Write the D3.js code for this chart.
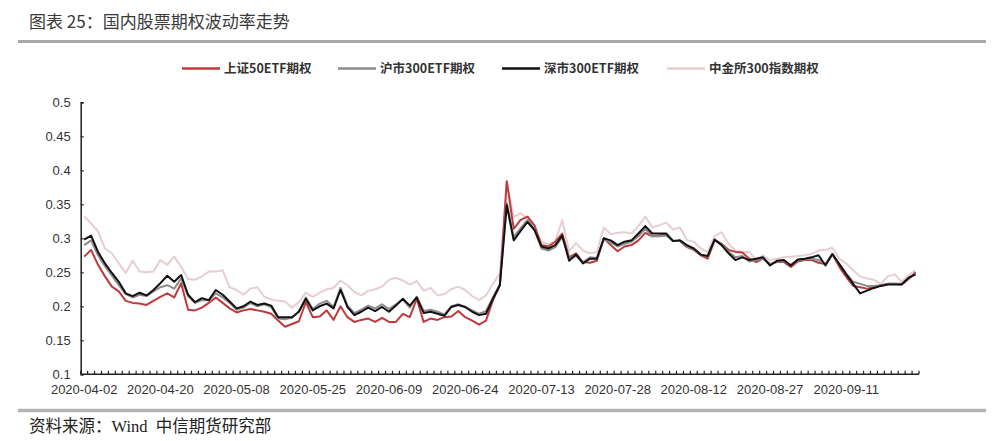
<!DOCTYPE html>
<html><head><meta charset="utf-8">
<script src="https://cdn.jsdelivr.net/npm/d3@7/dist/d3.min.js"></script>
<style>
body{margin:0;background:#fff;}
svg{display:block;}
</style></head>
<body>
<svg id="chart" width="1000" height="441"></svg>
<script>
const dates = [
"2020-04-02","2020-04-03","2020-04-07","2020-04-08","2020-04-09","2020-04-10","2020-04-13","2020-04-14","2020-04-15","2020-04-16","2020-04-17","2020-04-20","2020-04-21","2020-04-22","2020-04-23","2020-04-24","2020-04-27","2020-04-28","2020-04-29","2020-04-30",
"2020-05-06","2020-05-07","2020-05-08","2020-05-11","2020-05-12","2020-05-13","2020-05-14","2020-05-15","2020-05-18","2020-05-19","2020-05-20","2020-05-21","2020-05-22","2020-05-25","2020-05-26","2020-05-27","2020-05-28","2020-05-29",
"2020-06-01","2020-06-02","2020-06-03","2020-06-04","2020-06-05","2020-06-08","2020-06-09","2020-06-10","2020-06-11","2020-06-12","2020-06-15","2020-06-16","2020-06-17","2020-06-18","2020-06-19","2020-06-22","2020-06-23","2020-06-24","2020-06-29","2020-06-30",
"2020-07-01","2020-07-02","2020-07-03","2020-07-06","2020-07-07","2020-07-08","2020-07-09","2020-07-10","2020-07-13","2020-07-14","2020-07-15","2020-07-16","2020-07-17","2020-07-20","2020-07-21","2020-07-22","2020-07-23","2020-07-24","2020-07-27","2020-07-28","2020-07-29","2020-07-30","2020-07-31",
"2020-08-03","2020-08-04","2020-08-05","2020-08-06","2020-08-07","2020-08-10","2020-08-11","2020-08-12","2020-08-13","2020-08-14","2020-08-17","2020-08-18","2020-08-19","2020-08-20","2020-08-21","2020-08-24","2020-08-25","2020-08-26","2020-08-27","2020-08-28","2020-08-31",
"2020-09-01","2020-09-02","2020-09-03","2020-09-04","2020-09-07","2020-09-08","2020-09-09","2020-09-10","2020-09-11","2020-09-14","2020-09-15","2020-09-16","2020-09-17","2020-09-18","2020-09-21","2020-09-22","2020-09-23","2020-09-24","2020-09-25"
];
const xTickLabels = ["2020-04-02","2020-04-20","2020-05-08","2020-05-25","2020-06-09","2020-06-24","2020-07-13","2020-07-28","2020-08-12","2020-08-27","2020-09-11"];
const yTicks = [0.1,0.15,0.2,0.25,0.3,0.35,0.4,0.45,0.5];
const seriesNames = ["上证50ETF期权","沪市300ETF期权","深市300ETF期权","中金所300指数期权"];

const sz50 = [
0.273,0.283,0.261,0.244,0.229,0.222,0.208,0.205,0.204,0.202,0.208,0.214,0.219,0.213,0.234,0.195,0.194,0.198,0.205,0.213,0.205,0.197,0.191,0.194,0.196,0.194,
0.192,0.189,0.179,0.170,0.174,0.178,0.206,0.184,0.185,0.194,0.180,0.200,0.184,0.177,0.180,0.182,0.177,0.183,0.177,0.177,0.189,0.184,0.211,0.177,0.182,0.180,0.184,0.185,0.193,0.184,0.179,0.173,
0.179,0.209,0.231,0.384,0.314,0.327,0.332,0.319,0.290,0.288,0.295,0.307,0.272,0.278,0.265,0.264,0.267,0.300,0.290,0.281,0.288,0.290,0.297,0.308,0.303,0.304,0.306,0.296,0.296,0.287,0.283,0.275,
0.270,0.297,0.292,0.283,0.280,0.279,0.270,0.265,0.270,0.262,0.265,0.265,0.258,0.266,0.268,0.268,0.264,0.262,0.277,0.258,0.243,0.230,0.228,0.226,0.228,0.231,0.233,0.233,0.232,0.240,0.250];
const hs300 = [
0.290,0.297,0.275,0.259,0.245,0.231,0.218,0.213,0.217,0.215,0.222,0.228,0.231,0.226,0.241,0.215,0.205,0.209,0.209,0.219,0.213,0.205,0.195,0.198,0.205,0.200,
0.203,0.199,0.182,0.181,0.183,0.193,0.213,0.196,0.204,0.208,0.199,0.227,0.201,0.190,0.195,0.201,0.197,0.203,0.196,0.203,0.210,0.198,0.214,0.193,0.195,0.192,0.188,0.200,0.203,0.199,0.194,0.189,
0.193,0.213,0.232,0.352,0.302,0.315,0.327,0.313,0.285,0.282,0.287,0.302,0.270,0.274,0.265,0.272,0.271,0.298,0.294,0.288,0.292,0.295,0.303,0.314,0.303,0.303,0.304,0.296,0.296,0.288,0.284,0.276,
0.273,0.298,0.291,0.280,0.272,0.274,0.266,0.268,0.270,0.262,0.266,0.266,0.261,0.268,0.269,0.270,0.268,0.262,0.276,0.262,0.248,0.236,0.233,0.230,0.230,0.231,0.233,0.233,0.233,0.241,0.249];
const ss300 = [
0.298,0.304,0.280,0.263,0.249,0.236,0.219,0.215,0.220,0.216,0.224,0.234,0.245,0.236,0.246,0.217,0.206,0.212,0.209,0.224,0.217,0.207,0.197,0.200,0.207,0.202,
0.204,0.201,0.184,0.184,0.184,0.192,0.211,0.194,0.200,0.204,0.197,0.224,0.199,0.187,0.192,0.198,0.193,0.199,0.192,0.201,0.211,0.201,0.213,0.190,0.192,0.189,0.186,0.199,0.202,0.199,0.192,0.187,
0.189,0.211,0.231,0.349,0.297,0.311,0.324,0.312,0.288,0.285,0.290,0.304,0.267,0.276,0.263,0.270,0.270,0.300,0.297,0.290,0.295,0.297,0.307,0.318,0.307,0.307,0.307,0.296,0.297,0.290,0.285,0.276,
0.274,0.298,0.290,0.278,0.268,0.272,0.268,0.270,0.272,0.260,0.267,0.268,0.260,0.269,0.270,0.272,0.275,0.260,0.277,0.262,0.247,0.233,0.219,0.223,0.227,0.230,0.232,0.232,0.232,0.242,0.247];
const cffex300 = [
0.332,0.322,0.310,0.285,0.278,0.263,0.249,0.267,0.251,0.250,0.251,0.268,0.261,0.273,0.258,0.240,0.239,0.244,0.251,0.251,0.253,0.228,0.224,0.217,0.226,0.228,
0.214,0.210,0.208,0.207,0.198,0.206,0.220,0.214,0.220,0.225,0.227,0.238,0.231,0.221,0.216,0.223,0.225,0.229,0.239,0.242,0.238,0.232,0.237,0.223,0.227,0.216,0.218,0.225,0.229,0.224,0.215,0.209,
0.216,0.233,0.248,0.383,0.331,0.337,0.329,0.314,0.295,0.291,0.295,0.327,0.281,0.293,0.282,0.278,0.280,0.316,0.306,0.308,0.309,0.307,0.318,0.332,0.316,0.319,0.323,0.313,0.316,0.297,0.295,0.285,
0.280,0.303,0.309,0.292,0.282,0.280,0.280,0.268,0.275,0.268,0.270,0.272,0.273,0.274,0.275,0.277,0.282,0.283,0.286,0.270,0.263,0.253,0.244,0.241,0.239,0.233,0.244,0.247,0.236,0.246,0.253];

const svg = d3.select("#chart");
const textColor = "#333";
const cjk = "'Noto Sans CJK SC','Noto Sans',sans-serif";
const axisFont = "'Liberation Sans',Arial,sans-serif";

// title
svg.append("text").attr("x",29).attr("y",28).attr("font-family",cjk).attr("font-size",17)
  .attr("fill","#3a3a3a").text("图表 25：国内股票期权波动率走势");
svg.append("line").attr("x1",18).attr("x2",986).attr("y1",41.5).attr("y2",41.5)
  .attr("stroke","#a9a9a9").attr("stroke-width",3);

// footer
svg.append("line").attr("x1",18).attr("x2",986).attr("y1",410.5).attr("y2",410.5)
  .attr("stroke","#b3b3b3").attr("stroke-width",3.5);
svg.append("text").attr("x",29).attr("y",432).attr("font-family","'Liberation Serif','Noto Sans CJK SC',serif")
  .attr("font-size",16.5).attr("fill","#222").attr("xml:space","preserve").text("资料来源：Wind  中信期货研究部");

const plotL = 80.7, plotR = 919, plotT = 102.3, plotB = 374.3;
const x = d3.scaleBand().domain(dates).range([plotL, plotR]).paddingInner(0).paddingOuter(0);
const y = d3.scaleLinear().domain([0.1, 0.5]).range([plotB, plotT]);

// y axis
const yAxis = svg.append("g").attr("transform",`translate(${plotL},0)`)
  .call(d3.axisLeft(y).tickValues(yTicks).tickSize(-3).tickPadding(10).tickFormat(d => String(+d.toFixed(2))));
yAxis.select(".domain").attr("stroke","#222").attr("stroke-width",1.5);
yAxis.selectAll(".tick line").attr("stroke","#222").attr("stroke-width",1.2);
yAxis.selectAll("text").attr("font-family",axisFont).attr("font-size",13).attr("fill",textColor);

// x axis
const xAxis = svg.append("g").attr("transform",`translate(0,${plotB})`)
  .call(d3.axisBottom(x).tickValues(xTickLabels).tickSize(0).tickPadding(10));
xAxis.select(".domain").attr("stroke","#222").attr("stroke-width",1.5).attr("d",`M${plotL},0H${plotR}`);
xAxis.selectAll("text").attr("font-family",axisFont).attr("font-size",13).attr("fill",textColor);
// category boundary ticks (inward)
const boundaries = dates.map(d => x(d)).concat([plotR]);
svg.append("g").selectAll("line").data(boundaries).join("line")
  .attr("x1",d=>d).attr("x2",d=>d).attr("y1",plotB).attr("y2",plotB-3.5)
  .attr("stroke","#222").attr("stroke-width",1.2);

// lines
const half = x.bandwidth()/2;
const series = [
  {name: seriesNames[3], values: cffex300, color: "#e8cdd1", width: 2},
  {name: seriesNames[0], values: sz50, color: "#be3a3d", width: 2},
  {name: seriesNames[1], values: hs300, color: "#8c8c8c", width: 2},
  {name: seriesNames[2], values: ss300, color: "#111111", width: 2}
];
const line = d3.line().x((d,i) => x(dates[i]) + half).y(d => y(d));
svg.append("g").selectAll("path").data(series).join("path")
  .attr("d", s => line(s.values)).attr("fill","none")
  .attr("stroke", s => s.color).attr("stroke-width", s => s.width)
  .attr("stroke-linejoin","round");

// legend
const legendItems = [
  {name: seriesNames[0], color: "#be3a3d", x: 182},
  {name: seriesNames[1], color: "#8c8c8c", x: 338},
  {name: seriesNames[2], color: "#111111", x: 502},
  {name: seriesNames[3], color: "#e8cdd1", x: 667}
];
const lg = svg.append("g").selectAll("g").data(legendItems).join("g")
  .attr("transform", d => `translate(${d.x},68.5)`);
lg.append("line").attr("x1",0).attr("x2",38).attr("y1",0).attr("y2",0)
  .attr("stroke", d => d.color).attr("stroke-width",2.5);
lg.append("text").attr("x",42).attr("y",4.5).attr("font-family",cjk).attr("font-size",12.5)
  .attr("font-weight","bold").attr("fill",textColor).text(d => d.name);
</script>
</body></html>
